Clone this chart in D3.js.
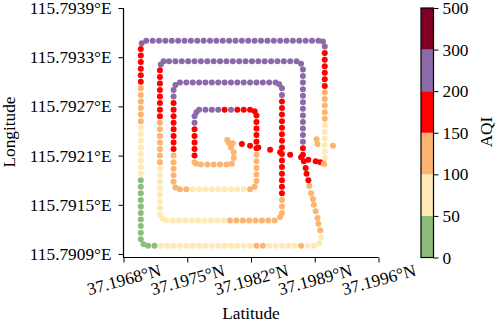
<!DOCTYPE html>
<html lang="en">
<head>
  <meta charset="UTF-8">
  <title>AQI flight track</title>
  <style>
    body { margin: 0; background: #fff; }
    text { font-family: "Liberation Serif", "DejaVu Serif", serif; fill: #000; }
  </style>
</head>
<body>
  <svg id="svg" width="498" height="323"></svg>

  <script src="https://d3js.org/d3.v7.min.js"></script>
  <script>
    // axis ticks
    const latTicks = [37.1968, 37.1975, 37.1982, 37.1989, 37.1996]
    const lonTicks = [115.7909, 115.7915, 115.7921, 115.7927, 115.7933, 115.7939]

    // AQI classes
    const aqiBreaks = [0, 50, 100, 150, 200, 300, 500]
    const aqiColors = ['#8dbd7b', '#ffe9b4', '#fdb46f', '#ff0000', '#8b6aa9', '#7e0023']

    // track samples: [latitude, longitude, AQI]
    // outer loop: up the east side, across the top, down the west side, along the bottom
    const loop1 = [
      [37.19901,115.79199,75],[37.19901,115.79207,75],[37.19901,115.79215,75],[37.19901,115.79223,75],[37.19901,115.79231,75],
      [37.19901,115.79239,75],[37.19901,115.79247,75],[37.19901,115.79255,125],[37.19901,115.79263,125],[37.19901,115.79271,125],
      [37.19901,115.79279,125],[37.19901,115.79287,125],[37.19901,115.79295,175],[37.19901,115.79303,175],[37.19901,115.79311,175],
      [37.19901,115.79319,175],[37.19901,115.79327,175],[37.19901,115.79335,175],[37.19901,115.79343,240],[37.19899,115.79349,240],
      [37.19894,115.79350,240],[37.19887,115.79350,240],[37.19880,115.79350,240],[37.19873,115.79350,240],[37.19866,115.79350,240],
      [37.19859,115.79350,240],[37.19852,115.79350,240],[37.19845,115.79350,240],[37.19838,115.79350,240],[37.19831,115.79350,240],
      [37.19824,115.79350,240],[37.19817,115.79350,240],[37.19810,115.79350,240],[37.19803,115.79350,240],[37.19796,115.79350,240],
      [37.19789,115.79350,240],[37.19782,115.79350,240],[37.19775,115.79350,240],[37.19768,115.79350,240],[37.19761,115.79350,240],
      [37.19754,115.79350,240],[37.19747,115.79350,240],[37.19740,115.79350,240],[37.19733,115.79350,240],[37.19726,115.79350,240],
      [37.19719,115.79350,240],[37.19712,115.79350,240],[37.19705,115.79350,240],[37.19700,115.79347,240],
      [37.19699,115.79340,175],[37.19699,115.79332,175],[37.19699,115.79324,175],[37.19699,115.79316,175],[37.19699,115.79308,175],
      [37.19699,115.79300,175],[37.19699,115.79292,125],[37.19699,115.79284,125],[37.19699,115.79276,125],[37.19699,115.79268,125],
      [37.19699,115.79260,125],[37.19699,115.79252,125],[37.19699,115.79244,75],[37.19699,115.79236,75],[37.19699,115.79228,75],
      [37.19699,115.79220,75],[37.19699,115.79212,75],[37.19699,115.79204,75],[37.19699,115.79196,75],[37.19699,115.79188,75],
      [37.19699,115.79180,35],[37.19699,115.79172,35],[37.19699,115.79164,35],[37.19699,115.79156,35],[37.19699,115.79148,35],
      [37.19699,115.79140,35],[37.19699,115.79132,35],[37.19699,115.79124,35],[37.19699,115.79116,35],[37.19699,115.79108,35],
      [37.19702,115.79102,35],
      [37.19707,115.79100,35],[37.19714,115.79100,35],[37.19721,115.79100,75],[37.19728,115.79100,75],[37.19735,115.79100,75],
      [37.19742,115.79100,75],[37.19749,115.79100,75],[37.19756,115.79100,75],[37.19763,115.79100,75],[37.19770,115.79100,75],
      [37.19777,115.79100,75],[37.19784,115.79100,75],[37.19791,115.79100,75],[37.19798,115.79100,75],[37.19805,115.79100,75],
      [37.19812,115.79100,75],[37.19819,115.79100,75],[37.19826,115.79100,125],[37.19833,115.79100,125],[37.19840,115.79100,75],
      [37.19847,115.79100,75],[37.19854,115.79100,75],[37.19861,115.79100,75],[37.19868,115.79100,75],[37.19875,115.79100,125],
      [37.19882,115.79100,75],[37.19889,115.79100,75],[37.19895,115.79103,75],[37.19897,115.79110,75]
    ]

    // slanted run back up to the second loop
    const diagonal = [
      [37.19896,115.79119,125],[37.19894,115.79127,125],[37.19893,115.79134,125],[37.19891,115.79142,125],[37.19889,115.79150,125],
      [37.19888,115.79157,125],[37.19886,115.79164,125],[37.19884,115.79173,125],[37.19883,115.79180,175],[37.19881,115.79188,175],
      [37.19880,115.79195,175],[37.19878,115.79203,175],[37.19877,115.79211,175]
    ]

    const loop2 = [
      [37.19877,115.79219,175],[37.19877,115.79227,240],[37.19877,115.79235,240],[37.19877,115.79243,240],[37.19877,115.79251,240],
      [37.19877,115.79259,240],[37.19877,115.79267,240],[37.19877,115.79275,240],[37.19877,115.79283,240],[37.19877,115.79291,240],
      [37.19877,115.79299,240],[37.19877,115.79307,240],[37.19877,115.79315,240],[37.19875,115.79322,240],
      [37.19870,115.79325,240],[37.19863,115.79325,240],[37.19856,115.79325,240],[37.19849,115.79325,240],[37.19842,115.79325,240],
      [37.19835,115.79325,240],[37.19828,115.79325,240],[37.19821,115.79325,240],[37.19814,115.79325,240],[37.19807,115.79325,240],
      [37.19800,115.79325,240],[37.19793,115.79325,240],[37.19786,115.79325,240],[37.19779,115.79325,240],[37.19772,115.79325,240],
      [37.19765,115.79325,240],[37.19758,115.79325,240],[37.19751,115.79325,240],[37.19744,115.79325,240],[37.19737,115.79325,240],
      [37.19730,115.79325,240],[37.19724,115.79325,240],[37.19721,115.79321,240],
      [37.19720,115.79314,175],[37.19720,115.79306,175],[37.19720,115.79298,175],[37.19720,115.79290,175],[37.19720,115.79282,175],
      [37.19720,115.79274,175],[37.19720,115.79266,175],[37.19720,115.79258,175],[37.19720,115.79250,125],[37.19720,115.79242,125],
      [37.19720,115.79234,125],[37.19720,115.79226,125],[37.19720,115.79218,125],[37.19720,115.79210,125],[37.19720,115.79202,125],
      [37.19720,115.79194,75],[37.19720,115.79186,75],[37.19720,115.79178,75],[37.19720,115.79170,75],[37.19720,115.79162,75],
      [37.19720,115.79154,75],[37.19720,115.79146,75],[37.19720,115.79138,75],[37.19723,115.79133,75],
      [37.19727,115.79131,75],[37.19734,115.79131,75],[37.19741,115.79131,75],[37.19748,115.79131,75],[37.19755,115.79131,75],
      [37.19762,115.79131,75],[37.19769,115.79131,75],[37.19776,115.79131,75],[37.19783,115.79131,75],[37.19790,115.79131,75],
      [37.19797,115.79131,125],[37.19804,115.79131,125],[37.19811,115.79131,125],[37.19818,115.79131,125],[37.19825,115.79131,125],
      [37.19832,115.79131,125],[37.19839,115.79131,125],[37.19846,115.79131,125],[37.19852,115.79135,125]
    ]

    const loop3 = [
      [37.19854,115.79140,125],[37.19854,115.79148,125],[37.19854,115.79156,125],[37.19854,115.79164,175],[37.19854,115.79172,175],
      [37.19854,115.79180,175],[37.19854,115.79188,175],[37.19854,115.79196,175],[37.19854,115.79204,175],[37.19854,115.79212,175],
      [37.19854,115.79220,175],[37.19854,115.79228,175],[37.19854,115.79236,175],[37.19854,115.79244,175],[37.19854,115.79252,175],
      [37.19854,115.79260,175],[37.19854,115.79268,175],[37.19854,115.79276,175],[37.19854,115.79284,240],[37.19854,115.79292,240],
      [37.19851,115.79297,240],
      [37.19847,115.79299,240],[37.19840,115.79299,240],[37.19833,115.79299,240],[37.19826,115.79299,240],[37.19819,115.79299,240],
      [37.19812,115.79299,240],[37.19805,115.79299,240],[37.19798,115.79299,240],[37.19791,115.79299,240],[37.19784,115.79299,240],
      [37.19777,115.79299,240],[37.19770,115.79299,240],[37.19763,115.79299,240],[37.19756,115.79299,240],[37.19749,115.79299,240],
      [37.19742,115.79299,240],[37.19737,115.79296,240],
      [37.19735,115.79290,240],[37.19735,115.79282,240],[37.19735,115.79274,175],[37.19735,115.79266,175],[37.19735,115.79258,175],
      [37.19735,115.79250,175],[37.19735,115.79242,175],[37.19735,115.79234,175],[37.19735,115.79226,175],[37.19735,115.79218,175],
      [37.19735,115.79210,125],[37.19735,115.79202,125],[37.19735,115.79194,125],[37.19735,115.79186,125],[37.19735,115.79178,125],
      [37.19737,115.79171,125],
      [37.19742,115.79169,125],[37.19749,115.79169,125],[37.19756,115.79169,75],[37.19763,115.79169,75],[37.19770,115.79169,75],
      [37.19777,115.79169,75],[37.19784,115.79169,75],[37.19791,115.79169,75],[37.19798,115.79169,75],[37.19805,115.79169,75],
      [37.19812,115.79169,75],[37.19819,115.79169,125],[37.19824,115.79172,125]
    ]

    // innermost loop, ends in the hook at the centre
    const loop4 = [
      [37.19826,115.79179,125],[37.19826,115.79187,125],[37.19826,115.79195,125],[37.19826,115.79203,125],[37.19826,115.79211,125],
      [37.19826,115.79219,175],[37.19826,115.79227,175],[37.19826,115.79235,175],[37.19826,115.79243,175],[37.19826,115.79251,175],
      [37.19826,115.79259,175],[37.19824,115.79264,175],
      [37.19819,115.79266,175],[37.19812,115.79266,175],[37.19805,115.79266,175],[37.19798,115.79266,240],[37.19791,115.79266,175],
      [37.19784,115.79266,240],[37.19777,115.79266,240],[37.19770,115.79266,240],[37.19763,115.79266,240],[37.19760,115.79263,240],
      [37.19758,115.79258,240],[37.19758,115.79250,240],[37.19758,115.79242,175],[37.19758,115.79234,175],[37.19758,115.79226,175],
      [37.19758,115.79218,175],[37.19758,115.79210,175],[37.19758,115.79202,125],[37.19760,115.79200,125],
      [37.19765,115.79199,125],[37.19772,115.79199,125],[37.19779,115.79199,125],[37.19786,115.79199,125],[37.19793,115.79199,125],
      [37.19799,115.79200,125],[37.19801,115.79207,125],[37.19801,115.79214,125],[37.19798,115.79220,125],[37.19796,115.79225,125],
      [37.19794,115.79229,125]
    ]

    // straight run from the centre out to the east side
    const outbound = [
      [37.19800,115.79225,125],[37.19810,115.79224,175],[37.19819,115.79222,175],[37.19828,115.79220,175],[37.19841,115.79217,175],
      [37.19852,115.79214,175],[37.19863,115.79211,175],[37.19875,115.79208,175],[37.19883,115.79205,175],[37.19891,115.79203,175],
      [37.19896,115.79202,175],[37.19900,115.79200,125],
      [37.19892,115.79230,125],[37.19893,115.79224,125],[37.19910,115.79222,125]
    ]

    const track = [].concat(loop1, diagonal, loop2, loop3, loop4, outbound)

    const svg = d3.select('#svg')

    const xScale = d3.scaleLinear()
      .domain([37.1968, 37.1996])
      .range([123.5, 378.5])

    const yScale = d3.scaleLinear()
      .domain([115.7909, 115.7939])
      .range([254, 8])

    const colorScale = d3.scaleThreshold()
      .domain(aqiBreaks.slice(1, -1))
      .range(aqiColors)

    const fontSize = '17.3px'
    const plotBottom = 257.5

    // points
    svg.append('g')
      .selectAll('circle')
      .data(track)
      .enter()
      .append('circle')
      .attr('cx', d => xScale(d[0]))
      .attr('cy', d => yScale(d[1]))
      .attr('r', 3)
      .attr('fill', d => colorScale(d[2]))

    // x axis
    const xAxis = svg.append('g')
      .attr('transform', `translate(0,${plotBottom})`)
      .call(d3.axisBottom(xScale)
        .tickValues(latTicks)
        .tickFormat(d => d3.format('.4f')(d) + '°N')
        .tickSize(5)
        .tickSizeOuter(0))
    xAxis.select('.domain').remove()
    xAxis.selectAll('text')
      .attr('y', 0)
      .attr('dy', '0.35em')
      .attr('text-anchor', 'middle')
      .attr('transform', 'translate(0,22) rotate(-15)')
      .style('font-size', fontSize)

    // y axis
    const yAxis = svg.append('g')
      .attr('transform', 'translate(123.5,0)')
      .call(d3.axisLeft(yScale)
        .tickValues(lonTicks)
        .tickFormat(d => d3.format('.4f')(d) + '°E')
        .tickSize(5)
        .tickPadding(7)
        .tickSizeOuter(0))
    yAxis.select('.domain').remove()
    yAxis.selectAll('text').style('font-size', fontSize)

    // spines
    svg.append('path')
      .attr('d', `M123.5,8V${plotBottom}H378.5`)
      .attr('fill', 'none')
      .attr('stroke', '#000')
      .attr('stroke-width', 1.2)

    // axis titles
    svg.append('text')
      .attr('x', 251)
      .attr('y', 319)
      .attr('text-anchor', 'middle')
      .style('font-size', fontSize)
      .text('Latitude')

    svg.append('text')
      .attr('transform', 'translate(15,132) rotate(-90)')
      .attr('text-anchor', 'middle')
      .style('font-size', fontSize)
      .text('Longitude')

    // colorbar
    const cbX = 421
    const cbW = 12.5
    const cbScale = d3.scaleLinear()
      .domain([0, aqiBreaks.length - 1])
      .range([plotBottom, 8])

    const cb = svg.append('g')
    cb.selectAll('rect')
      .data(aqiColors)
      .enter()
      .append('rect')
      .attr('x', cbX)
      .attr('y', (d, i) => cbScale(i + 1))
      .attr('width', cbW)
      .attr('height', (d, i) => cbScale(i) - cbScale(i + 1))
      .attr('fill', d => d)
    cb.append('rect')
      .attr('x', cbX)
      .attr('y', 8)
      .attr('width', cbW)
      .attr('height', plotBottom - 8)
      .attr('fill', 'none')
      .attr('stroke', '#000')
      .attr('stroke-width', 1.2)

    const cbAxis = svg.append('g')
      .attr('transform', `translate(${cbX + cbW},0)`)
      .call(d3.axisRight(cbScale)
        .tickValues(d3.range(aqiBreaks.length))
        .tickFormat(i => aqiBreaks[i])
        .tickSize(5)
        .tickPadding(4)
        .tickSizeOuter(0))
    cbAxis.select('.domain').remove()
    cbAxis.selectAll('text').style('font-size', fontSize)

    svg.append('text')
      .attr('transform', 'translate(486,132) rotate(-90)')
      .attr('text-anchor', 'middle')
      .attr('dy', '0.35em')
      .style('font-size', fontSize)
      .text('AQI')
  </script>
</body>
</html>
